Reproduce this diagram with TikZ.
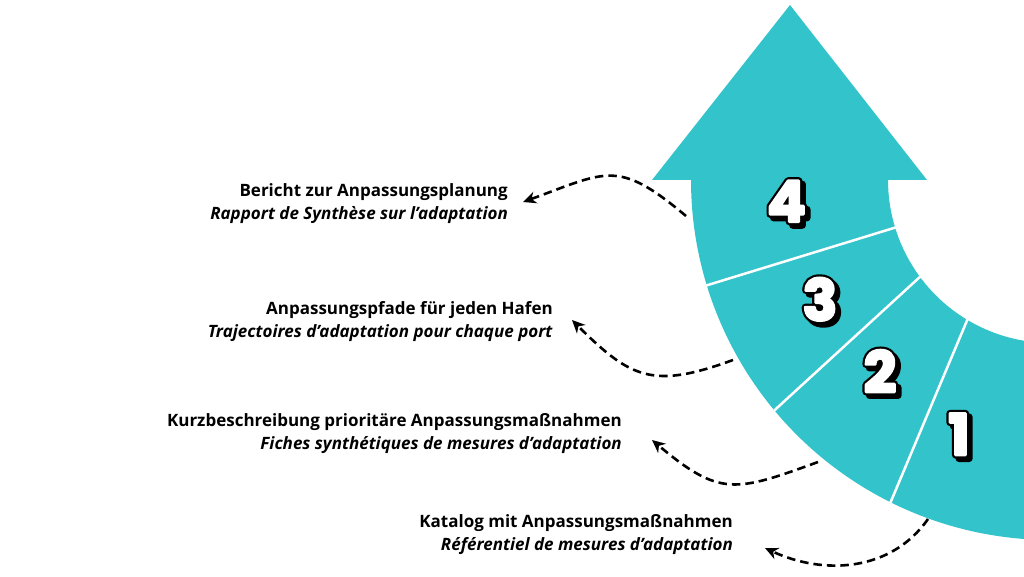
\documentclass[tikz,border=0pt]{standalone}
\usepackage{fontspec}
\setmainfont{Open Sans}
\newfontfamily\numfont{Poppins}
\usetikzlibrary{arrows.meta,calc}
\definecolor{band}{RGB}{51,195,203}
\newcommand\bignum[1]{%
  \rlap{\kern3.5pt\raisebox{-3.5pt}{\special{pdf:literal direct 2 Tr 7 w 1 j 0 G 0 g}#1\special{pdf:literal direct 0 Tr}}}%
  \rlap{\special{pdf:literal direct 1 Tr 7 w 1 j 0 G}#1\special{pdf:literal direct 0 Tr}}%
  \textcolor{white}{\special{pdf:literal direct 2 Tr 2.6 w 1 j 1 G 1 g}#1\special{pdf:literal direct 0 Tr}}}
\begin{document}
\begin{tikzpicture}[x=1pt,y=1pt,
  lbl/.style={anchor=east, align=right, inner sep=0pt, font=\fontsize{17}{23}\selectfont\bfseries},
  conn/.style={line width=2.6pt, dash pattern=on 8.5pt off 5pt, -{Stealth[length=13pt,width=12pt,inset=4pt]}},
  divline/.style={white, line width=2.5pt},
  numlbl/.style={inner sep=0pt, font=\numfont\bfseries\fontsize{57}{57}\selectfont}]
\useasboundingbox (0,0) rectangle (1024,576);
\clip (0,0) rectangle (1024,576);
\coordinate (C) at (1051,396);
% curved arrow band
\fill[band] (652,396) -- (790,571) -- (927,396) -- (888,396)
  arc[start angle=180,end angle=290,radius=163]
  -- ($(C)+(290:360)$)
  arc[start angle=290,end angle=180,radius=360] -- cycle;
% dividers
\draw[divline] (902,350.5) -- (703,289.5);
\draw[divline] (925.7,304.4) -- (774.3,165.6);
\draw[divline] (970,262.6) -- (890,72.4);
% numbers
\node[numlbl] (n4) at (786.5,373) {\bignum{4}};
\node[numlbl] (n3) at (820,275) {\bignum{3}};
\node[numlbl] (n2) at (880,203) {\bignum{2}};
\node[numlbl] (n1) at (959,140) {\bignum{1}};
% labels
\node[lbl] (t4) at (508,372.5) {Bericht zur Anpassungsplanung\\\textit{Rapport de Synthèse sur l’adaptation}};
\node[lbl] (t3) at (553,254.5) {Anpassungspfade für jeden Hafen\\\textit{Trajectoires d’adaptation pour chaque port}};
\node[lbl] (t2) at (622,142) {Kurzbeschreibung prioritäre Anpassungsmaßnahmen\\\textit{Fiches synthétiques de mesures d’adaptation}};
\node[lbl] (t1) at (733,41) {Katalog mit Anpassungsmaßnahmen\\\textit{Référentiel de mesures d’adaptation}};
% connector starts
\coordinate (s4) at (686,360);
\coordinate (s3) at (733,216);
\coordinate (s2) at (818,114);
\coordinate (s1) at (928,57);
% connectors
\draw[conn] (s4) to[out=140,in=20,looseness=1.4] ([shift={(15,1.5)}]t4.east);
\draw[conn] (s3) to[out=200,in=-45,looseness=1.3] ([shift={(19,1.5)}]t3.east);
\draw[conn] (s2) to[out=200,in=-40,looseness=1.35] ([shift={(30,-6)}]t2.east);
\draw[conn] (s1) to[out=235,in=-25] ([shift={(32,-13)}]t1.east);
\end{tikzpicture}
\end{document}
